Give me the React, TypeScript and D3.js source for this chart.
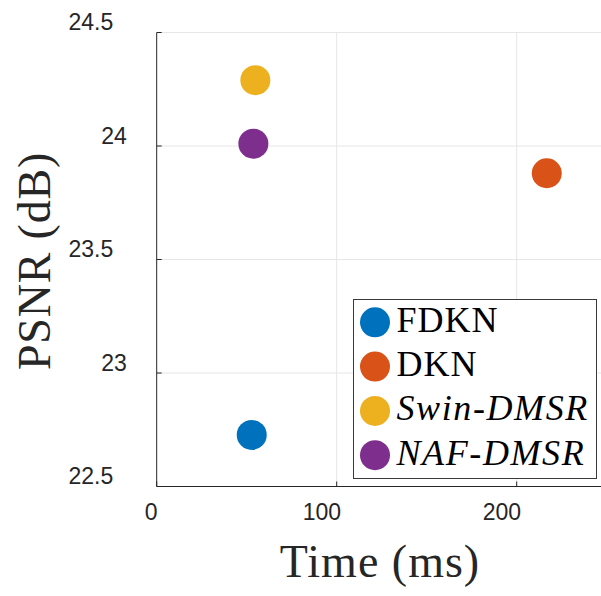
import React from "react";
import * as d3 from "d3";

const methods = ["FDKN", "DKN", "Swin-DMSR", "NAF-DMSR"];
const italicFlags = [false, false, true, true];
const timeMs = [52.8, 216.7, 54.8, 53.7];
const psnrDb = [22.727, 23.88, 24.29, 24.01];
const colors = ["#0072BD", "#D95319", "#EDB120", "#7E2F8E"];
const xTicks = [0, 100, 200];
const yTicks = [22.5, 23, 23.5, 24, 24.5];

const W = 601;
const H = 596;
const left = 156.7;
const top = 32.5;
const bottom = 486.5;

export default function App() {
  const x = d3.scaleLinear().domain([0, 250]).range([left, left + 450]);
  const y = d3.scaleLinear().domain([22.5, 24.5]).range([bottom, top]);
  const axisColor = "#262626";
  const gridColor = "#e6e6e6";
  const tickFont = "'Liberation Sans', Arial, sans-serif";
  const serif = "'Liberation Serif', 'Times New Roman', serif";

  const legX = 353.5;
  const legY = 299.5;
  const legW = 243;
  const legH = 179;
  const rowY = (i: number) => 322.3 + i * 44.3;

  return (
    <svg
      width={W}
      height={H}
      style={{ position: "absolute", left: 0, top: 0, background: "#fff" }}
    >
      <rect x={0} y={0} width={W} height={H} fill="#fff" />
      {/* grid */}
      {xTicks.filter((t) => t > 0).map((t) => (
        <line key={"gx" + t} x1={x(t)} x2={x(t)} y1={top} y2={bottom} stroke={gridColor} strokeWidth={1} />
      ))}
      {yTicks.filter((t) => t > 22.5).map((t) => (
        <line key={"gy" + t} x1={left} x2={W} y1={y(t)} y2={y(t)} stroke={gridColor} strokeWidth={1} />
      ))}
      {/* axes */}
      <line x1={left} x2={left} y1={top} y2={bottom} stroke={axisColor} strokeWidth={1} />
      <line x1={left} x2={W} y1={bottom} y2={bottom} stroke={axisColor} strokeWidth={1} />
      {xTicks.map((t) => (
        <g key={"xt" + t}>
          <line x1={x(t)} x2={x(t)} y1={bottom} y2={bottom - 5} stroke={axisColor} strokeWidth={1} />
          <text
            x={x(t) + (String(t).length === 1 ? -5.5 : -14.8)}
            y={520}
            textAnchor="middle"
            fontFamily={tickFont}
            fontSize={23}
            fill={axisColor}
          >
            {String(t)}
          </text>
        </g>
      ))}
      {yTicks.map((t) => (
        <g key={"yt" + t}>
          <line x1={left} x2={left + 5} y1={y(t)} y2={y(t)} stroke={axisColor} strokeWidth={1} />
          <text
            x={String(t).includes(".") ? 113.3 : 126.8}
            y={y(t) - 2.3}
            textAnchor="end"
            fontFamily={tickFont}
            fontSize={23}
            fill={axisColor}
          >
            {String(t)}
          </text>
        </g>
      ))}
      {/* points */}
      {methods.map((m, i) => (
        <circle key={m} cx={x(timeMs[i])} cy={y(psnrDb[i])} r={15} fill={colors[i]} />
      ))}
      {/* axis titles */}
      <text
        x={380}
        y={577}
        textAnchor="middle"
        fontFamily={serif}
        fontSize={46}
        letterSpacing={1}
        fill={axisColor}
      >
        Time (ms)
      </text>
      <text
        transform={`translate(50,261) rotate(-90)`}
        textAnchor="middle"
        fontFamily={serif}
        fontSize={46}
        letterSpacing={0.8}
        fill={axisColor}
      >
        PSNR (dB)
      </text>
      {/* legend */}
      <rect x={legX} y={legY} width={legW} height={legH} fill="#fff" stroke="#3a3a3a" strokeWidth={1} />
      {methods.map((m, i) => (
        <g key={"leg" + m}>
          <circle cx={375} cy={rowY(i)} r={15} fill={colors[i]} />
          <text
            x={396.5}
            y={rowY(i) + 9.4}
            fontFamily={serif}
            fontSize={36}
            letterSpacing={italicFlags[i] ? 1.6 : 1}
            fontStyle={italicFlags[i] ? "italic" : "normal"}
            fill="#000"
          >
            {m}
          </text>
        </g>
      ))}
    </svg>
  );
}
